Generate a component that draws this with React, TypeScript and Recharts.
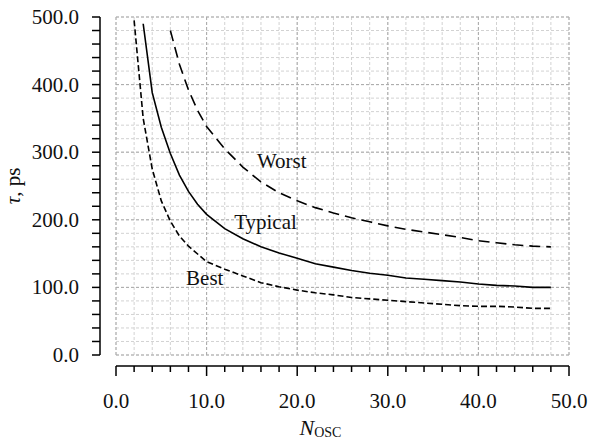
import React from 'react';
import { LineChart, Line, XAxis, YAxis, CartesianGrid, ReferenceLine, ReferenceDot } from 'recharts';

const FONT = '"Liberation Serif", "Times New Roman", serif';

// oscillator count (x) and delay in ps (y) for each curve
const typicalN = [3, 4, 5, 6, 7, 8, 9, 10, 12, 14, 16, 18, 20, 22, 24, 26, 28, 30, 32, 34, 36, 38, 40, 42, 44, 46, 48];
const typicalTau = [490, 388, 337, 298, 266, 242, 223, 208, 187, 172, 160, 151, 143, 135, 130, 125, 121, 118, 114, 112, 110, 108, 105, 103, 102, 100, 100];

const bestN = [2, 3, 4, 5, 6, 7, 8, 10, 12, 14, 16, 18, 20, 22, 24, 26, 28, 30, 32, 34, 36, 38, 40, 42, 44, 46, 48];
const bestTau = [495, 350, 275, 228, 198, 176, 161, 138, 127, 117, 107, 101, 96, 92, 89, 85, 83, 81, 79, 77, 75, 73, 72, 72, 71, 69, 69];

const worstN = [6, 7, 8, 9, 10, 12, 14, 16, 18, 20, 22, 24, 26, 28, 30, 32, 34, 36, 38, 40, 42, 44, 46, 48];
const worstTau = [480, 430, 392, 362, 338, 305, 278, 256, 240, 228, 218, 210, 203, 197, 191, 186, 182, 178, 174, 169, 166, 163, 161, 160];

const xTicks = [0, 2, 4, 6, 8, 10, 12, 14, 16, 18, 20, 22, 24, 26, 28, 30, 32, 34, 36, 38, 40, 42, 44, 46, 48, 50];
const yTicks = [0, 20, 40, 60, 80, 100, 120, 140, 160, 180, 200, 220, 240, 260, 280, 300, 320, 340, 360, 380, 400, 420, 440, 460, 480, 500];
const xMajor = [0, 10, 20, 30, 40, 50];
const yMajor = [0, 100, 200, 300, 400, 500];

const toRows = (ns: number[], taus: number[]) => ns.map((n, i) => ({ n, tau: taus[i] }));

const typical = toRows(typicalN, typicalTau);
const best = toRows(bestN, bestTau);
const worst = toRows(worstN, worstTau);

const XTick = (props: any) => {
  const { x, y, payload } = props;
  const major = payload.value % 10 === 0;
  return (
    <g>
      <line x1={x} x2={x} y1={y + 11} y2={y + (major ? 21 : 17)} stroke="#000" strokeWidth={1.5} />
      {major && (
        <text x={x} y={y + 53} textAnchor="middle" fontFamily={FONT} fontSize={21} fill="#111">
          {payload.value.toFixed(1)}
        </text>
      )}
    </g>
  );
};

const YTick = (props: any) => {
  const { x, y, payload } = props;
  const major = payload.value % 100 === 0;
  return (
    <g>
      <line x1={x - 24} x2={x - 16} y1={y} y2={y} stroke="#000" strokeWidth={1.5} />
      {major && (
        <text x={x - 37} y={y + 7} textAnchor="end" fontFamily={FONT} fontSize={21} fill="#111">
          {payload.value.toFixed(1)}
        </text>
      )}
    </g>
  );
};

const XTitle = (props: any) => {
  const { viewBox } = props;
  return (
    <text x={viewBox.x + viewBox.width / 2 - 43} y={viewBox.y + 80} fontFamily={FONT} fill="#111">
      <tspan fontSize={22} fontStyle="italic">N</tspan>
      <tspan fontSize={14} dy={2}>OSC</tspan>
    </text>
  );
};

const YTitle = (props: any) => {
  const { viewBox } = props;
  const cy = viewBox.y + viewBox.height / 2;
  return (
    <text x={13} y={cy} transform={`rotate(-90, 13, ${cy})`} textAnchor="middle" dominantBaseline="central" fontFamily={FONT} fontSize={21} fill="#111">
      <tspan fontStyle="italic">τ</tspan>, ps
    </text>
  );
};

const curveLabel = (value: string) => ({ value, position: 'center' as const, fontFamily: FONT, fontSize: 21, fill: '#111' });

export default function App() {
  return (
    <div style={{ position: 'absolute', left: 0, top: 0, background: '#fff' }}>
      <LineChart width={591} height={441} margin={{ top: 17, right: 22, bottom: 0, left: 0 }}>
        <CartesianGrid stroke="#d2d2d2" strokeDasharray="3 2" />
        {xMajor.map((v) => (
          <ReferenceLine key={'x' + v} x={v} stroke="#ababab" strokeDasharray="3 2" />
        ))}
        {yMajor.map((v) => (
          <ReferenceLine key={'y' + v} y={v} stroke="#ababab" strokeDasharray="3 2" />
        ))}
        <XAxis
          type="number"
          dataKey="n"
          domain={[0, 50]}
          ticks={xTicks}
          interval={0}
          height={86}
          tickSize={0}
          tickMargin={0}
          tickLine={false}
          axisLine={{ stroke: '#000', strokeWidth: 1.5, transform: 'translate(0, 11)' }}
          tick={XTick}
          label={<XTitle />}
        />
        <YAxis
          type="number"
          dataKey="tau"
          domain={[0, 500]}
          ticks={yTicks}
          interval={0}
          width={116}
          tickSize={0}
          tickMargin={0}
          tickLine={false}
          axisLine={{ stroke: '#000', strokeWidth: 1.5, transform: 'translate(-16, 0)' }}
          tick={YTick}
          label={<YTitle />}
        />
        <Line data={worst} dataKey="tau" type="linear" stroke="#000" strokeWidth={1.6} strokeDasharray="11 6" dot={false} isAnimationActive={false} />
        <Line data={typical} dataKey="tau" type="linear" stroke="#000" strokeWidth={1.6} dot={false} isAnimationActive={false} />
        <Line data={best} dataKey="tau" type="linear" stroke="#000" strokeWidth={1.6} strokeDasharray="6 3" dot={false} isAnimationActive={false} />
        <ReferenceDot x={18.3} y={288} r={0} fill="none" stroke="none" label={curveLabel('Worst')} />
        <ReferenceDot x={16.5} y={198} r={0} fill="none" stroke="none" label={curveLabel('Typical')} />
        <ReferenceDot x={9.8} y={114} r={0} fill="none" stroke="none" label={curveLabel('Best')} />
      </LineChart>
    </div>
  );
}
